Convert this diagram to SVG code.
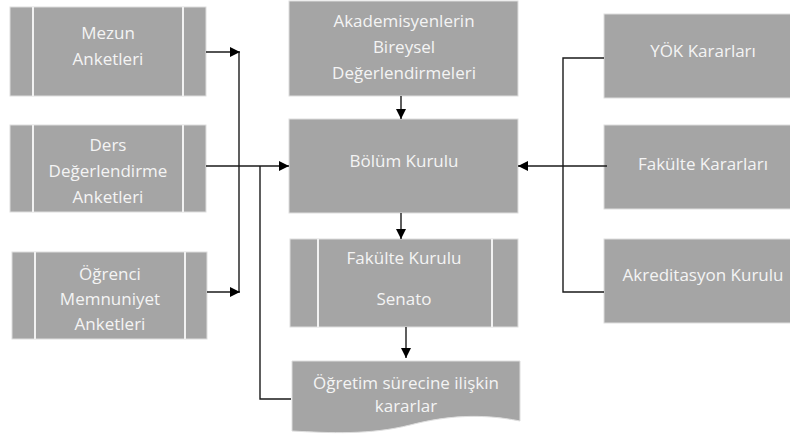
<svg xmlns="http://www.w3.org/2000/svg" width="790" height="438" viewBox="0 0 790 438">
<defs>
<style>
.box{fill:#a5a5a5;stroke:#dedede;stroke-width:1}
.div{stroke:#f2f2f2;stroke-width:2}
.t{font-family:"Open Sans","Liberation Sans",sans-serif;font-size:17px;fill:#f4f4f4;text-anchor:middle}
.c{fill:none;stroke:#1a1a1a;stroke-width:1.4}
</style>
<marker id="ah" viewBox="0 0 10 10" refX="10" refY="5" markerWidth="10" markerHeight="10" markerUnits="userSpaceOnUse" orient="auto">
<path d="M0,0 L10,5 L0,10 Z" fill="#000"/>
</marker>
</defs>
<rect width="790" height="438" fill="#fff"/>

<g id="mezun">
<rect class="box" x="10" y="7" width="196" height="89"/>
<line class="div" x1="33" y1="7" x2="33" y2="96"/>
<line class="div" x1="183" y1="7" x2="183" y2="96"/>
<text class="t" x="108" y="39">Mezun</text>
<text class="t" x="108" y="65">Anketleri</text>
</g>

<g id="ders">
<rect class="box" x="10" y="125" width="196" height="87"/>
<line class="div" x1="33" y1="125" x2="33" y2="212"/>
<line class="div" x1="183" y1="125" x2="183" y2="212"/>
<text class="t" x="108" y="151">Ders</text>
<text class="t" x="108" y="177">Değerlendirme</text>
<text class="t" x="108" y="203">Anketleri</text>
</g>

<g id="ogrenci">
<rect class="box" x="12" y="252" width="195" height="87"/>
<line class="div" x1="35" y1="252" x2="35" y2="339"/>
<line class="div" x1="185" y1="252" x2="185" y2="339"/>
<text class="t" x="110" y="280">Öğrenci</text>
<text class="t" x="110" y="305">Memnuniyet</text>
<text class="t" x="110" y="330">Anketleri</text>
</g>

<g id="akademisyen">
<rect class="box" x="289" y="1" width="229" height="95"/>
<text class="t" x="404" y="27">Akademisyenlerin</text>
<text class="t" x="404" y="53">Bireysel</text>
<text class="t" x="404" y="79">Değerlendirmeleri</text>
</g>

<g id="bolum">
<rect class="box" x="289" y="119" width="229" height="94"/>
<text class="t" x="404" y="167">Bölüm Kurulu</text>
</g>

<g id="fakulte-kurulu">
<rect class="box" x="290" y="239" width="228" height="88"/>
<line class="div" x1="318" y1="239" x2="318" y2="327"/>
<line class="div" x1="492" y1="239" x2="492" y2="327"/>
<text class="t" x="404" y="264">Fakülte Kurulu</text>
<text class="t" x="404" y="305">Senato</text>
</g>

<g id="ogretim">
<path class="box" d="M292,361 H520 V421 C480,413 445,416 410,425 C370,435 330,433 292,431 Z"/>
<text class="t" x="406" y="389">Öğretim sürecine ilişkin</text>
<text class="t" x="406" y="412">kararlar</text>
</g>

<g id="yok">
<rect class="box" x="604" y="14" width="200" height="84"/>
<text class="t" x="703" y="57">YÖK Kararları</text>
</g>

<g id="fakulte-kararlari">
<rect class="box" x="604" y="125" width="200" height="84"/>
<text class="t" x="703" y="170">Fakülte Kararları</text>
</g>

<g id="akreditasyon">
<rect class="box" x="604" y="239" width="200" height="84"/>
<text class="t" x="703" y="281">Akreditasyon Kurulu</text>
</g>

<g id="connectors">
<line class="c" x1="206" y1="52" x2="240" y2="52" marker-end="url(#ah)"/>
<line class="c" x1="239" y1="52" x2="239" y2="292"/>
<line class="c" x1="207" y1="292" x2="240" y2="292" marker-end="url(#ah)"/>
<line class="c" x1="206" y1="166" x2="289" y2="166" marker-end="url(#ah)"/>
<polyline class="c" points="260,166 260,399 291,399"/>
<line class="c" x1="401" y1="96" x2="401" y2="119" marker-end="url(#ah)"/>
<line class="c" x1="401" y1="213" x2="401" y2="239" marker-end="url(#ah)"/>
<line class="c" x1="406" y1="327" x2="406" y2="358" marker-end="url(#ah)"/>
<polyline class="c" points="604,58 563,58 563,292 604,292"/>
<line class="c" x1="607" y1="166" x2="518" y2="166" marker-end="url(#ah)"/>
</g>
</svg>
